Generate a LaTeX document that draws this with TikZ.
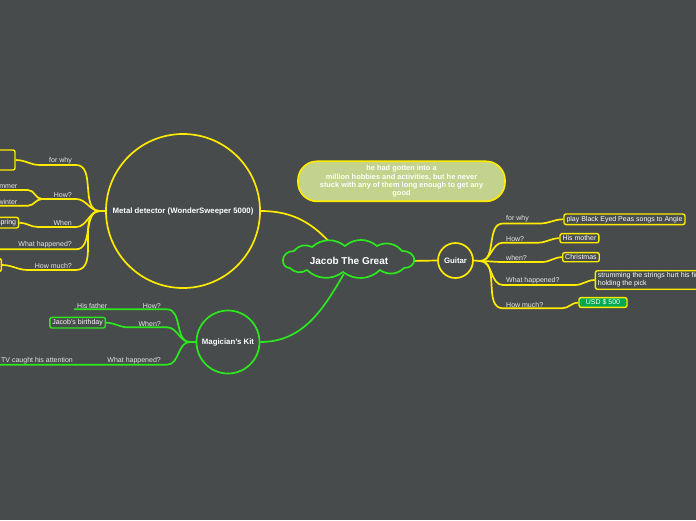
\documentclass[tikz,border=0pt]{standalone}
\usepackage{fontspec}
\setmainfont{Liberation Sans}
\usetikzlibrary{shapes.geometric}
\definecolor{bg}{RGB}{71,75,75}
\definecolor{yel}{RGB}{255,235,0}
\definecolor{grn}{RGB}{45,232,30}
\definecolor{notefill}{RGB}{195,210,140}
\definecolor{usd}{RGB}{0,168,80}
\definecolor{lbltxt}{RGB}{232,232,232}
\begin{document}
\begin{tikzpicture}[x=1pt,y=-1pt,
 lbl/.style={text=lbltxt, font=\fontsize{7}{8}\selectfont, inner sep=1pt},
 boxy/.style={draw=yel, line width=1.4pt, rounded corners=2pt, fill=bg, text=white, font=\fontsize{7}{8}\selectfont, inner ysep=2pt, inner xsep=2.5pt, align=left},
 yl/.style={draw=yel, line width=1.7pt},
 gl/.style={draw=grn, line width=1.7pt},
 br/.style={out=0,in=180},
 bl/.style={out=180,in=0},
 puff/.style={bend left=40},
 topic/.style={circle, line width=1.7pt, fill=bg, inner sep=0pt, text=white, font=\bfseries\fontsize{7.8}{9}\selectfont},
]
\fill[bg] (0,0) rectangle (696,520);
\useasboundingbox (0,0) rectangle (696,520);
\clip (0,0) rectangle (696,520);

% central topic: anchor ellipse (hidden under the cloud)
\node[ellipse, minimum width=120pt, minimum height=26pt, inner sep=0pt] (root) at (349,261) {};

% main nodes
\node[topic, draw=yel, minimum size=35pt] (guitar) at (455.5,260.5) {Guitar};
\node[topic, draw=yel, minimum size=154pt] (md) at (183,211) {Metal detector (WonderSweeper 5000)};
\node[topic, draw=grn, minimum size=63pt] (mag) at (228,342) {Magician's Kit};
\node[draw=yel, line width=1.7pt, fill=notefill, rounded corners=19pt, minimum width=207pt, minimum height=40pt, text=white, inner sep=1pt, font=\bfseries\fontsize{7.4}{8.4}\selectfont, align=center] (note) at (401.5,181.3) {he had gotten into a\\million hobbies and activities, but he never\\stuck with any of them long enough to get any\\good};

% root connectors
\draw[yl] (md.east) to[out=0,in=130] (root.138);
\draw[gl] (root.-112) to[out=-120,in=0] (mag.east);
\draw[yl] (root.east) -- (guitar.west);

% cloud outline drawn over the connector ends
\draw[grn, line width=1.7pt, fill=bg]
  (290,268) .. controls (280,268) and (280,251) .. (294,251)
  to[puff] (312,247) to[puff] (345,246) to[puff] (377,246) to[puff] (402,251)
  .. controls (418,251) and (418,268) .. (404,268)
  to[puff] (380,270) to[puff] (343,272) to[puff] (307,270) to[puff] cycle;
\node[text=white, font=\bfseries\fontsize{10}{12}\selectfont, inner sep=0pt] (rootlabel) at (root.center) {Jacob The Great};

% ---------------- Guitar branches
\coordinate (gj) at (480,261);
\draw[yl] (guitar.east) -- (gj);
\node[boxy, anchor=west] (g1) at (563.3,219.3) {play Black Eyed Peas songs to Angie};
\node[boxy, anchor=west] (g2) at (559.3,238.2) {His mother};
\node[boxy, anchor=west] (g3) at (562,257.2) {Christmas};
\node[boxy, anchor=west] (g4) at (594.7,280) {strumming the strings hurt his fingers\\holding the pick};
\node[boxy, anchor=west, fill=usd, minimum width=48pt, align=center] (g5) at (578.3,302.5) {USD \$ 500};

\coordinate (g1a) at (503,223.5); \coordinate (g1b) at (540,223.5);
\coordinate (g2a) at (503,242.7); \coordinate (g2b) at (538,242.7);
\coordinate (g3a) at (503,262);   \coordinate (g3b) at (542,262);
\coordinate (g4a) at (503,285);   \coordinate (g4b) at (575,285);
\coordinate (g5a) at (503,308.3); \coordinate (g5b) at (562,308.3);
\draw[yl] (gj) to[br] (g1a) -- (g1b) to[br] (g1.west);
\draw[yl] (gj) to[br] (g2a) -- (g2b) to[br] (g2.west);
\draw[yl] (gj) to[br] (g3a) -- (g3b) to[br] (g3.west);
\draw[yl] (gj) to[br] (g4a) -- (g4b) to[br] (g4.west);
\draw[yl] (gj) to[br] (g5a) -- (g5b) to[br] (g5.west);
\node[lbl, anchor=south west] (gl1) at (505,223.5) {for why};
\node[lbl, anchor=south west] (gl2) at (505,242.7) {How?};
\node[lbl, anchor=south west] (gl3) at (505,262) {when?};
\node[lbl, anchor=south west] (gl4) at (505,285) {What happened?};
\node[lbl, anchor=south west] (gl5) at (505,308.3) {How much?};

% ---------------- Metal detector branches
\coordinate (mj) at (100,211);
\draw[yl] (md.west) -- (mj);
\node[boxy, anchor=east, minimum width=40pt, minimum height=20pt] (m1) at (15.7,160) {};
\node[boxy, anchor=east] (m3) at (19.3,222.7) {spring};
\node[boxy, anchor=east, minimum width=30pt, minimum height=13pt] (m5) at (2,265) {};
\node[lbl, anchor=south east] (sum) at (18.5,190) {summer};
\node[lbl, anchor=south east] (win) at (18.5,205.7) {winter};
\coordinate (m4end) at (-5,249.3);

\coordinate (m1a) at (76,165); \coordinate (m1b) at (40,165);
\coordinate (m2a) at (76,199); \coordinate (hj) at (42,199);
\coordinate (s1) at (28,190);  \coordinate (w1) at (28,205.7);
\coordinate (m3a) at (76,227); \coordinate (m3b) at (38,227);
\coordinate (m4a) at (76,249.3);
\coordinate (m5a) at (76,270); \coordinate (m5b) at (28,270);
\draw[yl] (mj) to[bl] (m1a) -- (m1b) to[bl] (m1.east);
\draw[yl] (mj) to[bl] (m2a) -- (hj);
\draw[yl] (hj) to[bl] (s1) -- (sum.south west);
\draw[yl] (hj) to[bl] (w1) -- (win.south west);
\draw[yl] (mj) to[bl] (m3a) -- (m3b) to[bl] (m3.east);
\draw[yl] (mj) to[bl] (m4a) -- (m4end);
\draw[yl] (mj) to[bl] (m5a) -- (m5b) to[bl] (m5.east);
\node[lbl, anchor=south east] (ml1) at (73,165) {for why};
\node[lbl, anchor=south east] (ml2) at (73,199) {How?};
\node[lbl, anchor=south east] (ml3) at (73,227) {When};
\node[lbl, anchor=south east] (ml4) at (73,249.3) {What happened?};
\node[lbl, anchor=south east] (ml5) at (73,270) {How much?};

% ---------------- Magician's Kit branches
\coordinate (kj) at (190,342);
\draw[gl] (mag.west) -- (kj);
\node[lbl, anchor=south west] (hf) at (76,309.3) {His father};
\node[boxy, draw=grn, anchor=east] (bday) at (106,322.7) {Jacob's birthday};
\node[lbl, anchor=south west] (tv) at (0,364.7) {TV caught his attention};
\coordinate (k1a) at (167,309.3);
\coordinate (k2a) at (167,327.3); \coordinate (k2b) at (128,327.3);
\coordinate (k3a) at (167,364.7);
\draw[gl] (kj) to[bl] (k1a) -- ([xshift=-2pt]hf.south west);
\draw[gl] (kj) to[bl] (k2a) -- (k2b) to[bl] (bday.east);
\draw[gl] (kj) to[bl] (k3a) -- ([xshift=-5pt]tv.south west);
\node[lbl, anchor=south east] (kl1) at (162,309.3) {How?};
\node[lbl, anchor=south east] (kl2) at (162,327.3) {When?};
\node[lbl, anchor=south east] (kl3) at (162,364.7) {What happened?};
\end{tikzpicture}
\end{document}
